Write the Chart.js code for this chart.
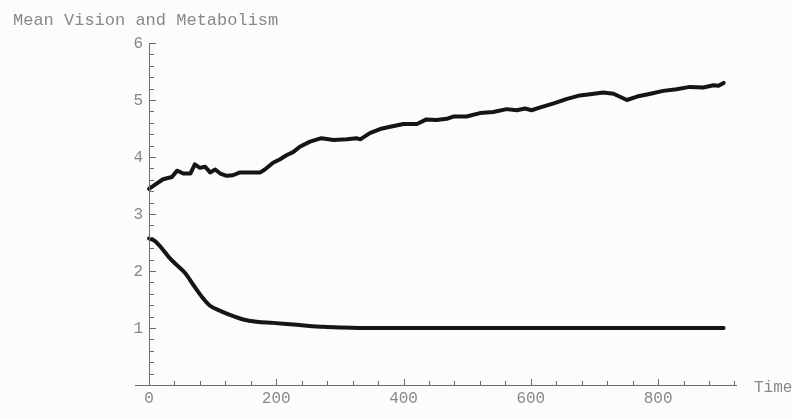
<!DOCTYPE html>
<html>
<head>
<meta charset="utf-8">
<script src="https://cdn.jsdelivr.net/npm/chart.js@4"></script>
<style>
  body { margin: 0; background: #fcfcfc; }
  #wrap { width: 792px; height: 418px; position: relative; }
</style>
</head>
<body>
<div id="wrap"><canvas id="myChart"></canvas></div>
<script>
// mean vision over time (upper curve)
let visionTime = [0, 9, 22, 36, 44, 54, 65, 72, 80, 88, 96, 104, 112, 122, 132, 143, 159, 175, 182, 195,
  206, 216, 227, 237, 253, 271, 290, 311, 326, 332, 347, 363, 379, 400, 421, 436, 452, 468, 478, 499,
  520, 541, 562, 578, 591, 601, 615, 636, 657, 677, 693, 714, 730, 751, 767, 788, 808, 829, 850, 871,
  887, 895, 903];
let visionMean = [3.44, 3.51, 3.61, 3.65, 3.76, 3.71, 3.71, 3.87, 3.81, 3.83, 3.73, 3.78, 3.71, 3.67, 3.68, 3.73, 3.73, 3.73, 3.78, 3.90,
  3.96, 4.03, 4.09, 4.18, 4.27, 4.33, 4.30, 4.31, 4.33, 4.31, 4.42, 4.49, 4.53, 4.58, 4.58, 4.66, 4.65, 4.67, 4.71, 4.71,
  4.77, 4.79, 4.84, 4.82, 4.85, 4.82, 4.87, 4.94, 5.02, 5.08, 5.10, 5.13, 5.11, 5.00, 5.06, 5.11, 5.16, 5.19, 5.23, 5.22,
  5.26, 5.25, 5.30];

// mean metabolism over time (lower curve)
let metabTime = [0, 9, 20, 33, 46, 57, 70, 83, 96, 112, 127, 148, 169, 195, 222, 248, 274, 300, 350, 450, 600, 750, 903];
let metabMean = [2.57, 2.53, 2.40, 2.22, 2.08, 1.96, 1.75, 1.55, 1.39, 1.30, 1.23, 1.15, 1.11, 1.09, 1.065, 1.04, 1.02, 1.01, 1.0, 1.0, 1.0, 1.0, 1.0];

let xTicks = [0, 200, 400, 600, 800];
let yTicks = [1, 2, 3, 4, 5, 6];
let chartTitle = "Mean Vision and Metabolism";
let xAxisLabel = "Time";

function toPoints(xs, ys) {
  return xs.map((x, i) => ({ x: x, y: ys[i] }));
}

const textColor = "#888888";
const axisColor = "#6a6a6a";
const monoFont = "'Liberation Mono', 'Courier New', monospace";

// Mathematica style axes crossing at the origin, ticks pointing inward
const mmaAxes = {
  id: "mmaAxes",
  afterDatasetsDraw(chart) {
    const ctx = chart.ctx;
    const xs = chart.scales.x;
    const ys = chart.scales.y;
    const x0 = Math.round(xs.getPixelForValue(0));
    const y0 = Math.round(ys.getPixelForValue(0));
    ctx.save();
    ctx.strokeStyle = axisColor;
    ctx.lineWidth = 1;

    // axis lines
    ctx.beginPath();
    ctx.moveTo(chart.chartArea.left, y0 + 0.5);
    ctx.lineTo(chart.chartArea.right, y0 + 0.5);
    ctx.moveTo(x0 + 0.5, ys.getPixelForValue(6));
    ctx.lineTo(x0 + 0.5, y0);
    ctx.stroke();

    // x ticks (minor every 40)
    ctx.beginPath();
    for (let v = 0; v <= xs.max; v += 40) {
      const px = Math.round(xs.getPixelForValue(v)) + 0.5;
      const len = v % 200 === 0 ? 6 : 4;
      ctx.moveTo(px, y0);
      ctx.lineTo(px, y0 - len);
    }
    // y ticks (minor every 0.2)
    for (let k = 1; k <= 30; k++) {
      const py = Math.round(ys.getPixelForValue(k / 5)) + 0.5;
      const len = k % 5 === 0 ? 6 : 4;
      ctx.moveTo(x0 + 1, py);
      ctx.lineTo(x0 + 1 + len, py);
    }
    ctx.stroke();

    // tick labels
    ctx.fillStyle = textColor;
    ctx.font = "16px " + monoFont;
    ctx.textAlign = "center";
    ctx.textBaseline = "alphabetic";
    xTicks.forEach((v) => {
      ctx.fillText(String(v), xs.getPixelForValue(v), y0 + 18);
    });
    ctx.textAlign = "right";
    ctx.textBaseline = "middle";
    yTicks.forEach((v) => {
      ctx.fillText(String(v), x0 - 6, ys.getPixelForValue(v) + 1);
    });

    // axis label and title
    ctx.textAlign = "left";
    ctx.fillText(xAxisLabel, chart.chartArea.right + 17, y0 + 3);
    ctx.font = "17px " + monoFont;
    ctx.textBaseline = "alphabetic";
    ctx.fillText(chartTitle, 13, 25);
    ctx.restore();
  },
};

const data = {
  datasets: [
    {
      label: "Vision",
      data: toPoints(visionTime, visionMean),
      borderColor: "#151515",
      borderWidth: 4,
    },
    {
      label: "Metabolism",
      data: toPoints(metabTime, metabMean),
      borderColor: "#151515",
      borderWidth: 4,
      cubicInterpolationMode: "monotone",
    },
  ],
};

const config = {
  type: "line",
  data: data,
  options: {
    responsive: true,
    maintainAspectRatio: false,
    animation: false,
    layout: { padding: { left: 135, right: 55, top: 43, bottom: 33 } },
    elements: {
      point: { radius: 0 },
      line: { tension: 0, borderJoinStyle: "round", borderCapStyle: "round" },
    },
    datasets: { line: { clip: false } },
    plugins: { legend: { display: false }, tooltip: { enabled: false } },
    scales: {
      x: { type: "linear", min: -22, max: 924, display: false },
      y: { type: "linear", min: 0, max: 6, display: false },
    },
  },
  plugins: [mmaAxes],
};

let myChart = new Chart(document.querySelector("#myChart"), config);
</script>
</body>
</html>
